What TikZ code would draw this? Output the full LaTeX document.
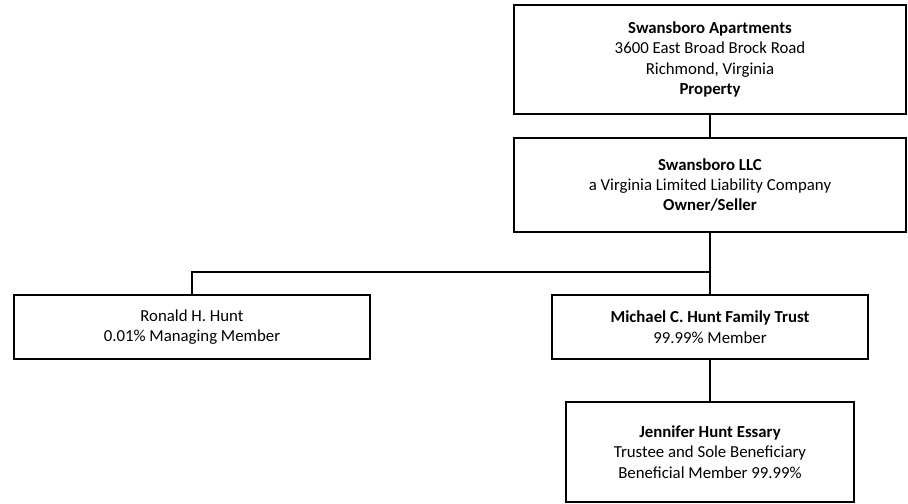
\documentclass[tikz,border=0pt]{standalone}
\usepackage{fontspec}
\setmainfont{Carlito}
\begin{document}
\begin{tikzpicture}[x=0.75pt,y=-0.75pt,
  box/.style={draw=black,line width=1.6pt,rectangle,inner sep=0pt,align=center,
    font=\fontsize{12.6}{15.3}\selectfont},
  conn/.style={draw=black,line width=0.8pt}]
\useasboundingbox (0,0) rectangle (908,504);
\node[box,minimum width=392*0.75pt,minimum height=109*0.75pt] (apt) at (710,59.5)
  {\textbf{Swansboro Apartments}\\3600 East Broad Brock Road\\Richmond, Virginia\\\textbf{Property}};
\node[box,minimum width=392*0.75pt,minimum height=94*0.75pt] (llc) at (710,185)
  {\textbf{Swansboro LLC}\\a Virginia Limited Liability Company\\\textbf{Owner/Seller}};
\node[box,minimum width=356*0.75pt,minimum height=64*0.75pt] (ron) at (192,327)
  {Ronald H. Hunt\\0.01\% Managing Member};
\node[box,minimum width=316*0.75pt,minimum height=64*0.75pt] (mic) at (710,327)
  {\textbf{Michael C. Hunt Family Trust}\\99.99\% Member};
\node[box,minimum width=288*0.75pt,minimum height=100*0.75pt] (jen) at (710,452)
  {\textbf{Jennifer Hunt Essary}\\Trustee and Sole Beneficiary\\Beneficial Member 99.99\%};
\coordinate (j) at (710,272);
\draw[conn] (apt.south) -- (llc.north);
\draw[conn] (llc.south) -- (mic.north);
\draw[conn] (j) -| (ron.north);
\draw[conn] (mic.south) -- (jen.north);
\end{tikzpicture}
\end{document}
